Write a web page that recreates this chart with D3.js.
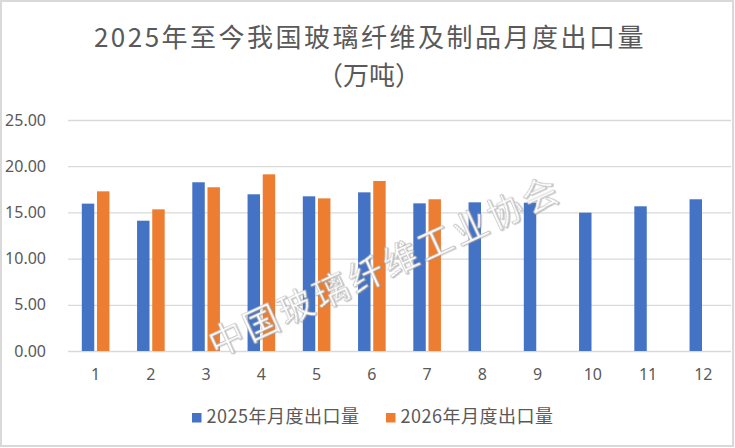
<!DOCTYPE html>
<html>
<head>
<meta charset="utf-8">
<script src="https://cdn.jsdelivr.net/npm/d3@7"></script>
<style>
  html, body { margin: 0; padding: 0; background: #fff; }
  svg { display: block; }
</style>
</head>
<body>
<svg id="chart" width="735" height="448"></svg>
<script>
// data
var months = ['1', '2', '3', '4', '5', '6', '7', '8', '9', '10', '11', '12'];
var seriesNames = ['2025年月度出口量', '2026年月度出口量'];
var exports2025 = [15.95, 14.10, 18.26, 16.96, 16.74, 17.17, 15.98, 16.09, 16.05, 14.97, 15.66, 16.42];
var exports2026 = [17.28, 15.33, 17.72, 19.12, 16.52, 18.40, 16.42];
var yTicks = [0, 5, 10, 15, 20, 25];

var colors = ['#4472C4', '#ED7D31'];
var textColor = '#595959';
var gridColor = '#d9d9d9';

var svg = d3.select('#chart');

var plot = { left: 68, right: 731, top: 120, bottom: 351 };

/**
 * Scales
 */
var x0 = d3.scaleBand()
  .domain(months)
  .range([plot.left, plot.right])
  .paddingInner(0.5)
  .paddingOuter(0.25);

var x1 = d3.scaleBand()
  .domain(seriesNames)
  .range([0, x0.bandwidth()])
  .paddingInner(0.18);

var y = d3.scaleLinear()
  .domain([0, 25])
  .range([plot.bottom, plot.top]);

// outer frame
svg.append('rect')
  .attr('x', 1).attr('y', 1)
  .attr('width', 732).attr('height', 445)
  .attr('fill', '#fff')
  .attr('stroke', gridColor)
  .attr('stroke-width', 2);

// title
var title = svg.append('text')
  .attr('text-anchor', 'middle')
  .attr('fill', textColor)
  .style('font-family', '"Noto Sans CJK SC", "Noto Sans", sans-serif')
  .style('font-size', '26px');

title.append('tspan')
  .attr('x', 370).attr('y', 47)
  .style('letter-spacing', '2.5px')
  .text('2025年至今我国玻璃纤维及制品月度出口量');

title.append('tspan')
  .attr('x', 369).attr('y', 85)
  .text('（万吨）');

/**
 * Y axis (gridlines + labels)
 */
var yAxis = d3.axisLeft(y)
  .tickValues(yTicks)
  .tickSize(-(plot.right - plot.left))
  .tickPadding(22)
  .tickFormat(d3.format('.2f'));

var yAxisG = svg.append('g')
  .attr('transform', 'translate(' + plot.left + ',0)')
  .call(yAxis);

yAxisG.select('.domain').remove();
yAxisG.selectAll('.tick line')
  .attr('stroke', gridColor)
  .attr('stroke-width', 1.3);
yAxisG.selectAll('.tick text')
  .attr('fill', textColor)
  .style('font-family', '"Noto Sans", sans-serif')
  .style('font-size', '16px');

/**
 * X axis labels
 */
var xAxis = d3.axisBottom(x0)
  .tickSize(0)
  .tickPadding(18);

var xAxisG = svg.append('g')
  .attr('transform', 'translate(0,' + plot.bottom + ')')
  .call(xAxis);

xAxisG.select('.domain').remove();
xAxisG.selectAll('.tick text')
  .attr('fill', textColor)
  .style('font-family', '"Noto Sans", sans-serif')
  .style('font-size', '16px');

/**
 * Bars
 */
var seriesData = [exports2025, exports2026];

var groups = svg.append('g')
  .selectAll('g.month')
  .data(months)
  .enter()
  .append('g')
  .attr('class', 'month')
  .attr('transform', function (m) {
    return 'translate(' + x0(m) + ',0)';
  });

groups.selectAll('rect')
  .data(function (m, i) {
    return seriesNames
      .map(function (s, k) {
        return { series: s, k: k, value: seriesData[k][i] };
      })
      .filter(function (d) { return d.value != null; });
  })
  .enter()
  .append('rect')
  .attr('x', function (d) { return x1(d.series); })
  .attr('y', function (d) { return y(d.value); })
  .attr('width', x1.bandwidth())
  .attr('height', function (d) { return y(0) - y(d.value); })
  .attr('fill', function (d) { return colors[d.k]; });

/**
 * Legend
 */
var legendPos = [192, 386];

var legend = svg.append('g')
  .selectAll('g.legend-item')
  .data(seriesNames)
  .enter()
  .append('g')
  .attr('class', 'legend-item')
  .attr('transform', function (d, i) {
    return 'translate(' + legendPos[i] + ',413)';
  });

legend.append('rect')
  .attr('width', 9.5)
  .attr('height', 9.5)
  .attr('fill', function (d, i) { return colors[i]; });

legend.append('text')
  .attr('x', 14.5)
  .attr('y', 9.5)
  .attr('fill', textColor)
  .style('font-family', '"Noto Sans CJK SC", sans-serif')
  .style('font-size', '18px')
  .style('letter-spacing', '0.5px')
  .text(function (d) { return d; });

/**
 * Watermark
 */
var defs = svg.append('defs');
var shadow = defs.append('filter')
  .attr('id', 'wm-shadow')
  .attr('x', '-10%').attr('y', '-30%')
  .attr('width', '120%').attr('height', '160%');
shadow.append('feDropShadow')
  .attr('dx', 1).attr('dy', 1)
  .attr('stdDeviation', 0.7)
  .attr('flood-color', '#8c8c8c')
  .attr('flood-opacity', 0.5);

svg.append('text')
  .attr('transform', 'translate(390,278) rotate(-24.6)')
  .attr('text-anchor', 'middle')
  .attr('fill', '#ffffff')
  .attr('stroke', '#b4b4b4')
  .attr('stroke-width', 0.6)
  .attr('filter', 'url(#wm-shadow)')
  .style('font-family', '"Noto Sans CJK SC", sans-serif')
  .style('font-size', '35px')
  .style('letter-spacing', '3.3px')
  .text('中国玻璃纤维工业协会');
</script>
</body>
</html>
